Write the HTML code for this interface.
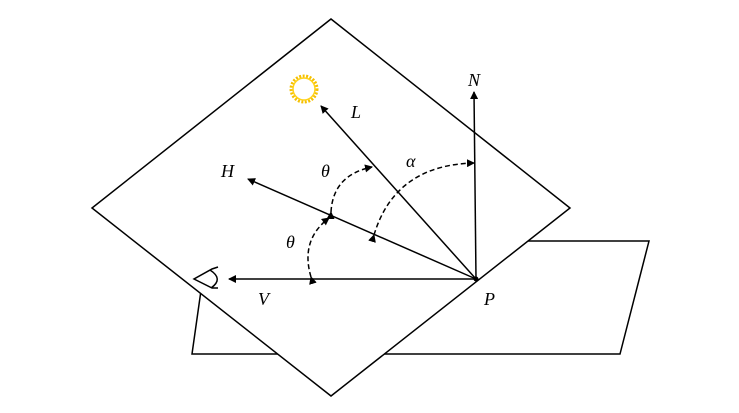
<!DOCTYPE html>
<html><head><style>body{margin:0;background:#fff}svg{display:block}</style></head><body>
<svg width="739" height="413" viewBox="0 0 739 413" xmlns="http://www.w3.org/2000/svg">
<defs>
<marker id="a" markerWidth="8" markerHeight="8" refX="7" refY="4" orient="auto" markerUnits="userSpaceOnUse"><path d="M0,0 L8,4 L0,8 Z" fill="#000"/></marker>
</defs>
<polygon points="208,241 649,241 620,354 192,354" fill="#fff" stroke="#000" stroke-width="1.5"/>
<polygon points="331,19 570,208 331,396 92,208" fill="#fff" stroke="#000" stroke-width="1.5"/>
<g stroke="#000" stroke-width="1.5" fill="none">
<line x1="476" y1="279" x2="474" y2="92" marker-end="url(#a)"/>
<line x1="476" y1="279" x2="321" y2="106" marker-end="url(#a)"/>
<line x1="476" y1="279" x2="248" y2="179" marker-end="url(#a)"/>
<line x1="476" y1="279" x2="229" y2="279" marker-end="url(#a)"/>
<g stroke-dasharray="5,3">
<path d="M331,212 Q333,175 372,167" marker-end="url(#a)" marker-start="url(#a)"/>
<path d="M311,277 Q300,240 329,218" marker-end="url(#a)" marker-start="url(#a)"/>
<path d="M374,235 Q395,165 474,163" marker-end="url(#a)" marker-start="url(#a)"/>
</g>
<path d="M218,267 L212,269 L194,279 L212,288 L218,288 M210,270 Q224,279 211,288"/>
</g>
<circle cx="476" cy="279" r="2.5" fill="#000"/>
<circle cx="304" cy="89" r="13" fill="none" stroke="#f5c000" stroke-width="3" stroke-dasharray="2,1.5"/>
<circle cx="304" cy="89" r="11" fill="none" stroke="#ffd21a" stroke-width="1.5"/>
<g font-family="Liberation Serif, serif" font-style="italic" font-size="18" fill="#000">
<text x="468" y="86">N</text>
<text x="351" y="118">L</text>
<text x="221" y="177">H</text>
<text x="321" y="177">θ</text>
<text x="406" y="167">α</text>
<text x="286" y="248">θ</text>
<text x="258" y="305">V</text>
<text x="484" y="305">P</text>
</g>
</svg>
</body></html>
